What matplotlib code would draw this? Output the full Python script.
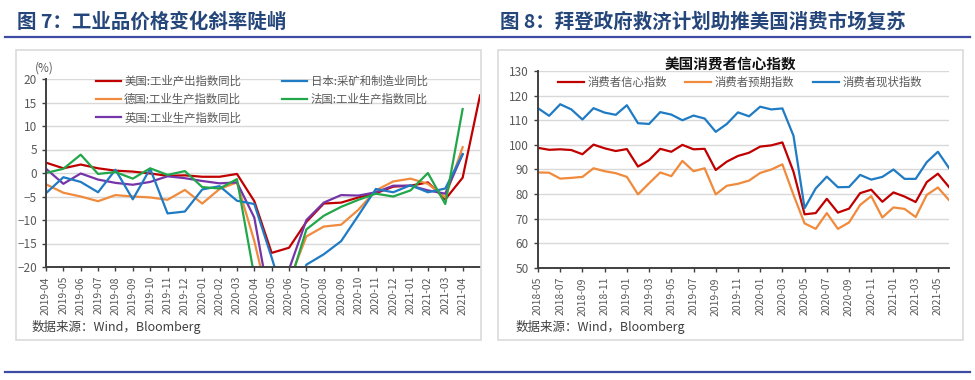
import numpy as np
import pandas as pd
import matplotlib
matplotlib.use('Agg')
import matplotlib.pyplot as plt
from matplotlib.patches import Rectangle
from matplotlib.lines import Line2D

plt.rcParams['font.family'] = ['Noto Sans CJK SC', 'DejaVu Sans']

W, H = 975, 380

# ---- 图7 data: yoy %, monthly from 2019-04 ----
months_l = list(pd.period_range('2019-04', '2021-04', freq='M').strftime('%Y-%m'))
us = [2.2, 1.0, 1.8, 1.0, 0.5, 0.3, -0.1, -0.6, -0.5, -0.8, -0.8, -0.2,
      -6.0, -17.0, -15.9, -10.4, -6.5, -6.3, -5.2, -4.3, -2.9, -2.7, -2.0, -5.6, -1.0, 16.5]
japan = [-4.3, -0.9, -1.9, -4.1, 0.7, -5.6, 0.9, -8.6, -8.2, -3.5, -2.8, -5.9,
         -6.6, -18.0, -30.0, -19.5, -17.3, -14.5, -9.0, -3.4, -4.1, -2.6, -4.1, -3.3, 4.0]
germany = [-2.4, -4.2, -5.0, -6.0, -4.7, -5.0, -5.2, -5.7, -3.6, -6.5, -3.4, -2.0,
           -14.5, -30.0, -23.0, -13.5, -11.4, -11.0, -7.8, -3.7, -1.8, -1.2, -2.3, -5.2, 5.5]
france = [0.0, 0.9, 3.9, -0.2, 0.2, -1.2, 1.0, -0.4, 0.4, -3.0, -3.3, -1.3,
          -22.0, -35.0, -24.0, -12.0, -9.1, -7.2, -5.7, -4.4, -5.0, -3.7, 0.0, -6.6, 13.6]
uk = [0.9, -2.3, -0.1, -1.4, -2.1, -2.5, -1.9, -0.7, -1.1, -1.7, -2.2, -2.0,
      -9.5, -30.0, -20.5, -10.0, -6.3, -4.7, -4.8, -4.1, -2.7, -2.7, -3.7, -4.4, 4.0]

# ---- 图8 data: University of Michigan indices, monthly from 2018-05 ----
months_r = list(pd.period_range('2018-05', '2021-06', freq='M').strftime('%Y-%m'))
sentiment = [98.8, 98.0, 98.2, 97.9, 96.2, 100.1, 98.6, 97.5, 98.3, 91.2, 93.8, 98.4,
             97.2, 100.0, 98.2, 98.4, 89.8, 93.2, 95.5, 96.8, 99.3, 99.8, 101.0, 89.1,
             71.8, 72.3, 78.1, 72.5, 74.1, 80.4, 81.8, 76.9, 80.7, 79.0, 76.8, 84.9, 88.3, 82.9]
expectation = [88.8, 88.7, 86.3, 86.6, 87.0, 90.5, 89.3, 88.5, 87.0, 79.9, 84.4, 88.8,
               87.3, 93.5, 89.3, 90.5, 79.9, 83.4, 84.2, 85.5, 88.6, 90.0, 92.1, 79.7,
               68.1, 65.9, 72.3, 65.9, 68.5, 75.6, 79.2, 70.5, 74.6, 74.0, 70.7, 79.7, 82.7, 77.6]
current = [114.9, 111.8, 116.5, 114.4, 110.3, 114.9, 113.1, 112.2, 116.1, 108.8, 108.5, 113.3,
           112.3, 110.0, 111.9, 110.7, 105.3, 108.5, 113.2, 111.6, 115.5, 114.4, 114.8, 103.7,
           74.3, 82.3, 87.1, 82.8, 82.9, 87.8, 85.9, 87.0, 90.0, 86.2, 86.2, 93.0, 97.2, 90.6]

RED, BLUE, ORANGE, GREEN, PURPLE = '#C00000', '#1F7BC4', '#F08A3C', '#22A64A', '#7535A8'
GRID, AXC, TXT = '#D9D9D9', '#404040', '#595959'
TITLE_C, RULE_C = '#25467A', '#3D4BA3'


def fx(px):
    return px / W


def fy(py):
    return 1 - py / H


fig = plt.figure(figsize=(W / 100, H / 100), dpi=100)

# frames and rules
for x0 in (15.5, 498):
    fig.add_artist(Rectangle((fx(x0), fy(340)), 465 / W, 290 / H, transform=fig.transFigure,
                             fill=False, edgecolor='#DADADA', lw=1.2))
fig.add_artist(Line2D([fx(5), fx(970)], [fy(37), fy(37)], color=RULE_C, lw=1.6))
fig.add_artist(Line2D([fx(5), fx(970)], [fy(371.5), fy(371.5)], color=RULE_C, lw=1.6))

fig.text(fx(17), fy(22), '图 7：工业品价格变化斜率陡峭', fontsize=14, fontweight='bold',
         color=TITLE_C, va='center', ha='left')
fig.text(fx(500), fy(22), '图 8：拜登政府救济计划助推美国消费市场复苏', fontsize=14,
         fontweight='bold', color=TITLE_C, va='center', ha='left')


def style_axes(ax):
    for s in ('top', 'right'):
        ax.spines[s].set_visible(False)
    for s in ('left', 'bottom'):
        ax.spines[s].set_color(AXC)
        ax.spines[s].set_linewidth(1.4)
    ax.grid(axis='y', color=GRID, lw=1.0)
    ax.set_axisbelow(True)
    ax.tick_params(axis='y', colors=AXC, labelcolor=TXT, labelsize=8.5, length=3, width=1)
    ax.tick_params(axis='x', colors=AXC, labelcolor=TXT, labelsize=7.5, length=3, width=1,
                   rotation=90)


# ---- left chart ----
ax1 = fig.add_axes([fx(46), fy(267), (480 - 46) / W, (267 - 79) / H])
style_axes(ax1)
l_us, = ax1.plot(np.arange(len(us)), us, color=RED, lw=1.6, label='美国:工业产出指数同比')
l_de, = ax1.plot(np.arange(len(germany)), germany, color=ORANGE, lw=1.6, label='德国:工业生产指数同比')
l_uk, = ax1.plot(np.arange(len(uk)), uk, color=PURPLE, lw=1.6, label='英国:工业生产指数同比')
l_jp, = ax1.plot(np.arange(len(japan)), japan, color=BLUE, lw=1.6, label='日本:采矿和制造业同比')
l_fr, = ax1.plot(np.arange(len(france)), france, color=GREEN, lw=1.6, label='法国:工业生产指数同比')
ax1.set_ylim(-20, 20)
ax1.set_yticks(np.arange(-20, 21, 5))
ax1.set_xlim(0, 25)
ax1.set_xticks(np.arange(len(months_l)))
ax1.set_xticklabels(months_l)
fig.text(fx(35), fy(68), '(%)', fontsize=8.5, color=TXT, va='center', ha='left')
ax1.legend(handles=[l_us, l_de, l_uk, l_jp, l_fr], ncol=2, loc='upper left',
           bbox_to_anchor=(fx(90), fy(70)), bbox_transform=fig.transFigure,
           frameon=False, fontsize=8.2, labelcolor=TXT, handlelength=2.2,
           handletextpad=0.3, columnspacing=3.6, labelspacing=0.6, borderpad=0)
fig.text(fx(32), fy(327), '数据来源：Wind，Bloomberg', fontsize=9, color=AXC,
         va='center', ha='left')

# ---- right chart ----
ax2 = fig.add_axes([fx(538), fy(268), (949 - 538) / W, (268 - 71) / H])
style_axes(ax2)
xr = np.arange(len(sentiment))
ax2.plot(xr, sentiment, color=RED, lw=1.6, label='消费者信心指数')
ax2.plot(xr, expectation, color=ORANGE, lw=1.6, label='消费者预期指数')
ax2.plot(xr, current, color=BLUE, lw=1.6, label='消费者现状指数')
ax2.set_ylim(50, 130)
ax2.set_yticks(np.arange(50, 131, 10))
ax2.set_xlim(0, 37)
ax2.set_xticks(np.arange(0, len(months_r) - 1, 2))
ax2.set_xticklabels(months_r[0:-1:2])
ax2.legend(ncol=3, loc='upper left', bbox_to_anchor=(fx(552), fy(71)),
           bbox_transform=fig.transFigure, frameon=False, fontsize=8.2, labelcolor=TXT,
           handlelength=2.3, handletextpad=0.3, columnspacing=1.6, borderpad=0)
fig.text(fx(730), fy(64), '美国消费者信心指数', fontsize=10.5, fontweight='bold',
         color='#111111', va='center', ha='center')
fig.text(fx(516), fy(327), '数据来源：Wind，Bloomberg', fontsize=9, color=AXC,
         va='center', ha='left')

fig.savefig('out.png', dpi=100)
